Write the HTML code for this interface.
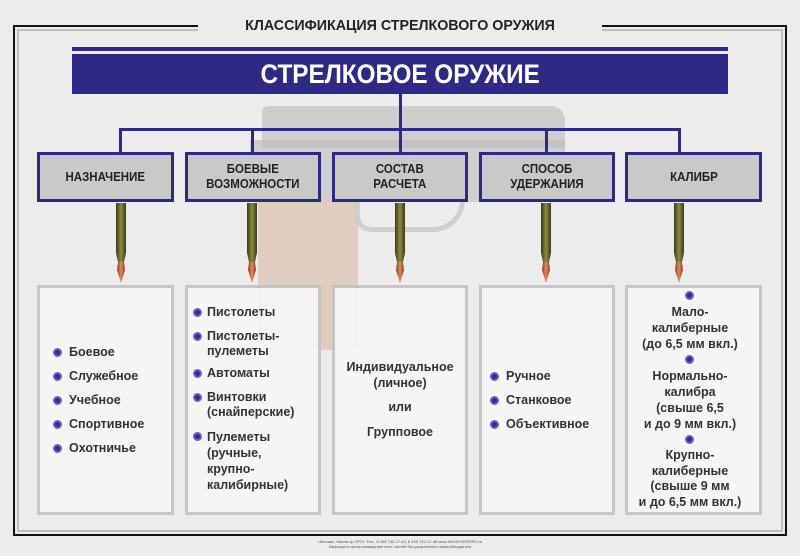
<!DOCTYPE html>
<html><head><meta charset="utf-8"><style>
*{margin:0;padding:0;box-sizing:border-box}
body{width:800px;height:556px;background:#ececec;position:relative;overflow:hidden;font-family:"Liberation Sans",sans-serif}
.a{position:absolute}
.hb{position:absolute;top:152px;height:50px;background:#c9c9c9;border:3px solid #2e2a84;display:flex;align-items:center;justify-content:center;text-align:center;font-weight:bold;font-size:12.5px;line-height:15px;color:#222}
.hb span{display:inline-block;transform:scaleX(0.92)}
.cb{position:absolute;top:285px;height:230px;background:#f6f6f6;border:3px solid #c4c4c4;opacity:.93}
.t{position:absolute;font-weight:bold;font-size:12.5px;line-height:14.5px;color:#333;white-space:nowrap}
.d{position:absolute;width:9px;height:9px;border-radius:50%;background:#33279a;border:2px solid #6a60c0}
.c{text-align:center;transform:translateX(-50%)}
.ln{position:absolute;background:#2e2a84}
</style></head><body>
<!-- frame -->
<div class="a" style="left:13px;top:25px;width:774px;height:511px;border:2px solid #111"></div>
<div class="a" style="left:17px;top:29px;width:766px;height:503px;border:2px solid #bdbdbd"></div>
<div class="a" style="left:198px;top:16px;width:404px;height:20px;background:#ececec;text-align:center;font-weight:bold;font-size:15px;color:#222;line-height:20px"><span style="display:inline-block;transform:scaleX(0.95)">КЛАССИФИКАЦИЯ СТРЕЛКОВОГО ОРУЖИЯ</span></div>
<!-- gun -->
<div class="a" style="left:262px;top:106px;width:303px;height:42px;background:#c2c2c2;border-radius:6px 14px 0 0;opacity:.7"></div>
<div class="a" style="left:250px;top:140px;width:315px;height:62px;background:#bcbcbc;opacity:.6"></div>
<div class="a" style="left:258px;top:200px;width:100px;height:150px;background:#dcc6b6;border-radius:0 0 10px 10px;opacity:.8"></div>
<div class="a" style="left:355px;top:200px;width:110px;height:32px;border:5px solid #cacaca;border-top:none;border-radius:0 0 40px 20px;opacity:.8"></div>
<!-- top bar -->
<div class="ln" style="left:72px;top:47px;width:656px;height:4px"></div>
<div class="a" style="left:72px;top:54px;width:656px;height:40px;background:#2e2a84;color:#fff;font-weight:bold;font-size:27px;text-align:center;line-height:40px"><span style="display:inline-block;transform:scaleX(0.9)">СТРЕЛКОВОЕ ОРУЖИЕ</span></div>
<!-- connectors -->
<div class="ln" style="left:399px;top:94px;width:3px;height:58px"></div>
<div class="ln" style="left:119px;top:128px;width:562px;height:3px"></div>
<div class="ln" style="left:119px;top:128px;width:3px;height:24px"></div>
<div class="ln" style="left:251px;top:128px;width:3px;height:24px"></div>
<div class="ln" style="left:545px;top:128px;width:3px;height:24px"></div>
<div class="ln" style="left:678px;top:128px;width:3px;height:24px"></div>
<!-- header boxes -->
<div class="hb" style="left:37px;width:137px"><span>НАЗНАЧЕНИЕ</span></div>
<div class="hb" style="left:185px;width:136px"><span>БОЕВЫЕ<br>ВОЗМОЖНОСТИ</span></div>
<div class="hb" style="left:332px;width:136px"><span>СОСТАВ<br>РАСЧЕТА</span></div>
<div class="hb" style="left:479px;width:136px"><span>СПОСОБ<br>УДЕРЖАНИЯ</span></div>
<div class="hb" style="left:625px;width:137px"><span>КАЛИБР</span></div>
<!-- bullets -->
<svg class="a" style="left:0;top:0" width="800" height="556">
<defs><linearGradient id="g" x1="0" x2="1"><stop offset="0" stop-color="#3b3a18"/><stop offset=".5" stop-color="#8a8a4a"/><stop offset="1" stop-color="#3b3a18"/></linearGradient>
<linearGradient id="r" x1="0" x2="1"><stop offset="0" stop-color="#8a3a1a"/><stop offset=".5" stop-color="#e08a60"/><stop offset="1" stop-color="#8a3a1a"/></linearGradient>
<g id="b"><rect x="-5" y="203" width="10" height="50" fill="url(#g)"/><polygon points="-5,253 5,253 3,262 -3,262" fill="url(#g)"/><polygon points="-3,262 3,262 4,270 0,283 -4,270" fill="url(#r)"/></g></defs>
<use href="#b" x="121"/><use href="#b" x="252"/><use href="#b" x="400"/><use href="#b" x="546"/><use href="#b" x="679"/>
</svg>
<!-- content boxes -->
<div class="cb" style="left:37px;width:137px"></div>
<div class="cb" style="left:185px;width:136px"></div>
<div class="cb" style="left:332px;width:136px"></div>
<div class="cb" style="left:479px;width:136px"></div>
<div class="cb" style="left:625px;width:137px"></div>
<!-- box1 -->
<div class="d" style="left:53px;top:348px"></div><div class="t" style="left:69px;top:345px">Боевое</div>
<div class="d" style="left:53px;top:372px"></div><div class="t" style="left:69px;top:369px">Служебное</div>
<div class="d" style="left:53px;top:396px"></div><div class="t" style="left:69px;top:393px">Учебное</div>
<div class="d" style="left:53px;top:420px"></div><div class="t" style="left:69px;top:417px">Спортивное</div>
<div class="d" style="left:53px;top:444px"></div><div class="t" style="left:69px;top:441px">Охотничье</div>
<!-- box2 -->
<div class="d" style="left:193px;top:308px"></div><div class="t" style="left:207px;top:305px">Пистолеты</div>
<div class="d" style="left:193px;top:332px"></div><div class="t" style="left:207px;top:329px">Пистолеты-<br>пулеметы</div>
<div class="d" style="left:193px;top:369px"></div><div class="t" style="left:207px;top:366px">Автоматы</div>
<div class="d" style="left:193px;top:393px"></div><div class="t" style="left:207px;top:390px">Винтовки<br>(снайперские)</div>
<div class="d" style="left:193px;top:432px"></div><div class="t" style="left:207px;top:429px;line-height:16px">Пулеметы<br>(ручные,<br>крупно-<br>калибирные)</div>
<!-- box3 -->
<div class="t c" style="left:400px;top:359px;line-height:16px">Индивидуальное<br>(личное)</div>
<div class="t c" style="left:400px;top:400px">или</div>
<div class="t c" style="left:400px;top:425px">Групповое</div>
<!-- box4 -->
<div class="d" style="left:490px;top:372px"></div><div class="t" style="left:506px;top:369px">Ручное</div>
<div class="d" style="left:490px;top:396px"></div><div class="t" style="left:506px;top:393px">Станковое</div>
<div class="d" style="left:490px;top:420px"></div><div class="t" style="left:506px;top:417px">Объективное</div>
<!-- box5 -->
<div class="d" style="left:685px;top:291px"></div>
<div class="t c" style="left:690px;top:304px;line-height:16px">Мало-<br>калиберные<br>(до 6,5 мм вкл.)</div>
<div class="d" style="left:685px;top:355px"></div>
<div class="t c" style="left:690px;top:368px;line-height:16px">Нормально-<br>калибра<br>(свыше 6,5<br>и до 9 мм вкл.)</div>
<div class="d" style="left:685px;top:435px"></div>
<div class="t c" style="left:690px;top:448px;line-height:15.5px">Крупно-<br>калиберные<br>(свыше 9 мм<br>и до 6,5 мм вкл.)</div>
<!-- footer -->
<div class="a" style="left:0;width:800px;top:539px;text-align:center;font-size:4px;color:#555;line-height:5px">г.Москва, «Магистр ПРО» Тел.: 8 495 742-17-43, 8 495 742-17-48 www.MAGISTERPRO.ru<br>Запрещено воспроизведение всех частей без разрешения правообладателя</div>
</body></html>
